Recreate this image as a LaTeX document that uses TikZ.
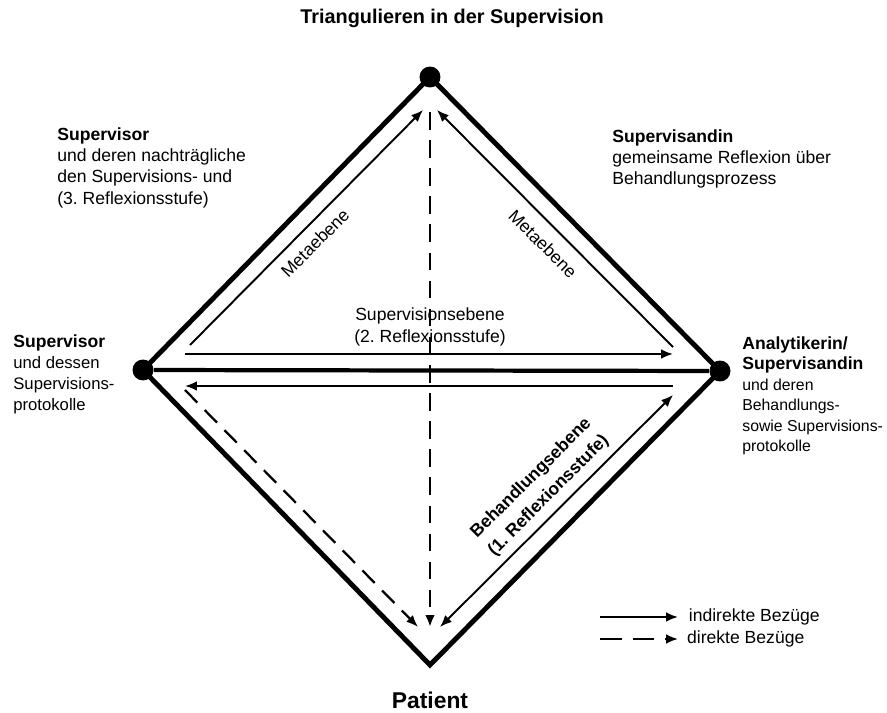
\documentclass[tikz,border=0pt]{standalone}
\usepackage{fontspec}
\setmainfont{Liberation Sans}
\frenchspacing
\usetikzlibrary{positioning,arrows.meta}

\begin{document}
\begin{tikzpicture}[x=0.02cm,y=-0.02cm,
		every node/.style={font=\fontsize{10}{12.2}\selectfont,inner sep=0pt},
		ecke/.style={circle,fill=black,minimum size=0.42cm},
		rand/.style={line width=2.8pt,line join=miter},
		bezug/.style={line width=1.1pt},
		spitze/.style={-{Latex[length=6.8pt,width=5.5pt]}},
		direkt/.style={line width=1.3pt,dash pattern=on 10pt off 6pt}]
			\useasboundingbox (0,0) rectangle (887,713);
			\node[font=\fontsize{11.3}{13}\selectfont\bfseries] (titel) at (452,18) {Triangulieren in der Supervision};
			\node[ecke] (o) at (430,77) {};
			\node[ecke] (l) at (143,370) {};
			\node[ecke] (r) at (720,371) {};
			\coordinate (u) at (430,665);
			\draw[rand] (o.center) -- (r.center) -- (u) -- (l.center) -- cycle;
			\draw[line width=2.4pt] (l) -- (r);
			\coordinate (ml1) at (190,345);
			\coordinate (ml2) at (423,110);
			\coordinate (mr1) at (673,347);
			\coordinate (mr2) at (437,110);
			\coordinate (sh1) at (185,354);
			\coordinate (sh2) at (673,354);
			\coordinate (sr1) at (673,386);
			\coordinate (sr2) at (185,386);
			\coordinate (dl1) at (185,390);
			\coordinate (dl2) at (418,627);
			\coordinate (bh1) at (440,627);
			\coordinate (bh2) at (673,395);
			\coordinate (dv1) at (430,112);
			\coordinate (dv2) at (430,627);
			\draw[bezug,spitze] (ml1) -- (ml2);
			\draw[bezug,spitze] (mr1) -- (mr2);
			\draw[bezug,spitze] (sh1) -- (sh2);
			\draw[bezug,spitze] (sr1) -- (sr2);
			\draw[bezug,{Latex[length=6.8pt,width=5.5pt]}-{Latex[length=6.8pt,width=5.5pt]}] (bh1) -- (bh2);
			\draw[direkt,spitze] (dl1) -- (dl2);
			\draw[direkt,line width=1.7pt,spitze] (dv1) -- (dv2);
			\node[rotate=45] (meta1) at (315,243) {Metaebene};
			\node[rotate=-45] (meta2) at (543,244) {Metaebene};
			\node[align=center] (sve) at (430,327) {Supervisionsebene\\(2. Reflexionsstufe)};
			\node[rotate=45,align=center,font=\fontsize{10}{14}\selectfont\bfseries] (beh) at (540,487) {Behandlungsebene\\(1. Reflexionsstufe)};
			\node[anchor=north west,align=left] (sv1) at (57,127) {\textbf{Supervisor}\\und deren nachträgliche\\den Supervisions- und\\(3. Reflexionsstufe)};
			\node[anchor=north west,align=left] (sd1) at (612,129) {\textbf{Supervisandin}\\gemeinsame Reflexion über\\Behandlungsprozess};
			\node[anchor=north west,align=left,font=\fontsize{9.5}{12}\selectfont] (sv2) at (13,334) {{\fontsize{10}{12}\selectfont\bfseries Supervisor}\\und dessen\\Supervisions-\\protokolle};
			\node[anchor=north west,align=left,font=\fontsize{9}{11.7}\selectfont] (sd2) at (742,336) {{\fontsize{10}{11.7}\selectfont\bfseries Analytikerin/}\\{\fontsize{10}{11.7}\selectfont\bfseries Supervisandin}\\und deren\\Behandlungs-\\sowie Supervisions-\\protokolle};
			\node[font=\fontsize{13}{15}\selectfont\bfseries] (pat) at (430,700) {Patient};
			\coordinate (li1) at (600,617);
			\coordinate (li2) at (678,617);
			\coordinate (ld1) at (600,639);
			\coordinate (ld2) at (678,639);
			\draw[bezug,spitze] (li1) -- (li2);
			\draw[bezug,dash pattern=on 12.5pt off 6pt,spitze] (ld1) -- (ld2);
			\node[right=6pt of li2] (lind) {indirekte Bezüge};
			\node[right=5pt of ld2] (ldir) {direkte Bezüge};
		\end{tikzpicture}
\end{document}
